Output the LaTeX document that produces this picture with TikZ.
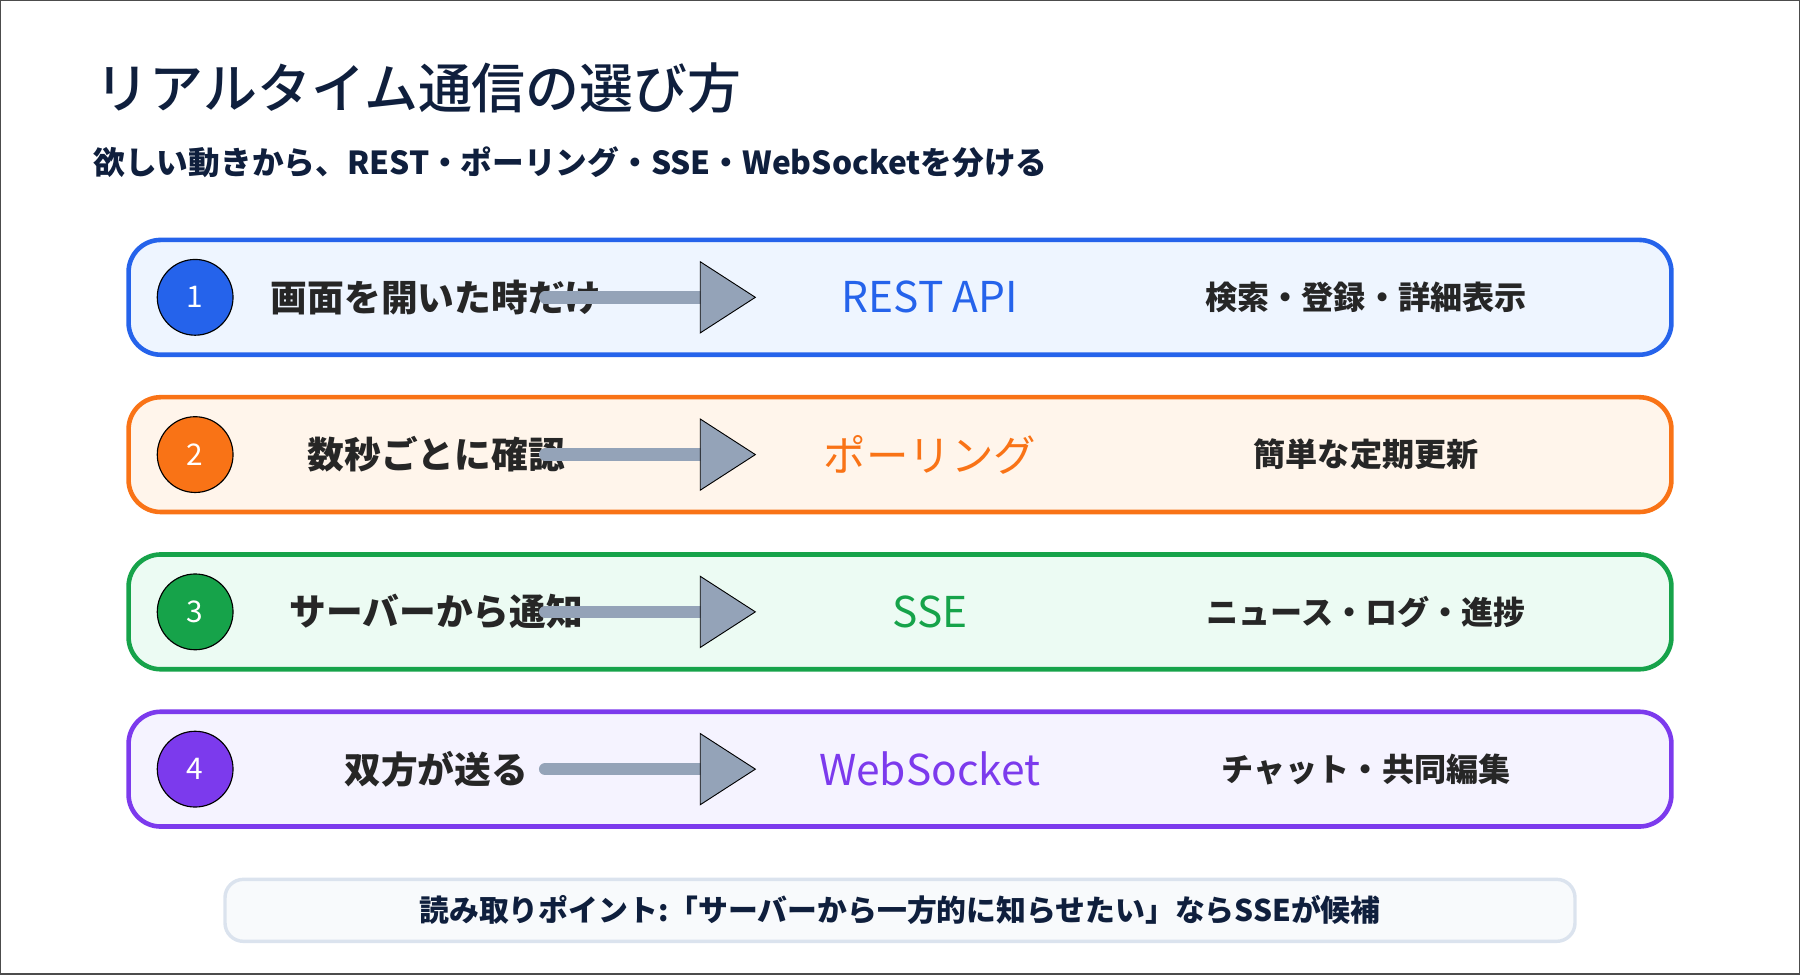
\documentclass[tikz,border=0pt]{standalone}
\usepackage{fontspec}
\setmainfont{Noto Sans CJK JP}
\newfontfamily\jpmed{Noto Sans CJK JP Medium}
\begin{document}
\begin{tikzpicture}[x=1pt,y=-1pt,
 row/.style={draw=#1,line width=4pt,rounded corners=28pt,minimum width=1344pt,minimum height=100pt},
 num/.style={circle,draw=black,line width=1pt,fill=#1,minimum size=66pt,text=white,font=\fontsize{26}{28}\selectfont},
 lt/.style={font=\bfseries\fontsize{32}{34}\selectfont,text=black!85},
 mt/.style={font=\fontsize{37}{39}\selectfont,text=#1},
 rt/.style={font=\bfseries\fontsize{28}{30}\selectfont,text=black!85},
 tri/.style={draw=black,line width=0.8pt,fill=arr},
 shaft/.style={draw=arr,line width=11pt,line cap=round}]
\definecolor{arr}{HTML}{94A3B8}
\definecolor{navy}{HTML}{0F1F3D}
\definecolor{nb}{HTML}{DBE3EE}
\definecolor{nf}{HTML}{F8FAFC}
\useasboundingbox (0,0) rectangle (1568,849);
\draw[black!70,line width=1pt] (0.5,0.5) rectangle (1567.5,848.5);
\node[anchor=west,font=\jpmed\fontsize{47}{49}\selectfont,text=navy] (title) at (80,77) {リアルタイム通信の選び方};
\node[anchor=west,font=\bfseries\fontsize{27.6}{30}\selectfont,text=navy] (sub) at (78,141) {欲しい動きから、REST・ポーリング・SSE・WebSocketを分ける};
\foreach \i/\y/\c/\f/\l/\m/\r in {
 1/259/2563EB/EEF5FF/画面を開いた時だけ/REST API/検索・登録・詳細表示,
 2/396/F97316/FFF5EB/数秒ごとに確認/ポーリング/簡単な定期更新,
 3/533/16A34A/ECFBF3/サーバーから通知/SSE/ニュース・ログ・進捗,
 4/670/7C3AED/F5F3FF/双方が送る/WebSocket/チャット・共同編集}{
 \definecolor{c\i}{HTML}{\c}\definecolor{f\i}{HTML}{\f}
 \node[row=c\i,fill=f\i] (box\i) at (784,\y) {};
 \node[num=c\i] (n\i) at (170,\y) {\i};
 \node[lt] (l\i) at (380,\y) {\l};
 \coordinate (s\i) at (475,\y);
 \coordinate (e\i) at (612,\y);
 \draw[shaft] (s\i) -- (e\i);
 \draw[tri] (610,\y-31) -- (658,\y) -- (610,\y+31) -- cycle;
 \node[mt=c\i] (m\i) at (810,\y) {\m};
 \node[rt] (r\i) at (1190,\y) {\r};
}
\node[draw=nb,fill=nf,line width=3pt,rounded corners=16pt,minimum width=1176pt,minimum height=54pt,font=\bfseries\fontsize{26}{28}\selectfont,text=navy] (note) at (784,793) {読み取りポイント:「サーバーから一方的に知らせたい」ならSSEが候補};
\end{tikzpicture}
\end{document}
